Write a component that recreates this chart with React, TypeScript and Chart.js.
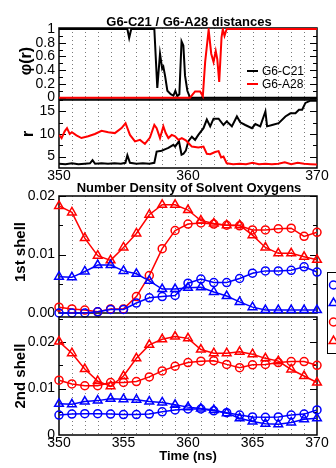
import React, { useEffect, useRef } from "react";
import { Chart, registerables } from "chart.js";

Chart.register(...registerables);

const PAGE_W = 336;
const PAGE_H = 468;
const FONT = "'Liberation Sans', Arial, Helvetica, sans-serif";
const AXIS_W = 50;

// ---------------- data ----------------
const timeMin = 350;
const timeMax = 370;
const gridTimes = [351, 352, 353, 354, 355, 356, 357, 358, 359, 360, 361, 362, 363, 364, 365, 366, 367, 368, 369];

// Panel 1: phi(r)
const phiC21Time = [350, 355.3, 355.44, 355.6, 357.39, 357.62, 357.83, 358.0, 358.09, 358.22, 358.4, 358.66, 358.87, 359.02, 359.17, 359.33, 359.5, 359.64, 359.77, 359.95, 360.16, 370];
const phiC21 = [1, 1, 0.87, 1, 1, 0.14, 0.64, 0.42, 0.45, 0.32, 0.1, 0.05, 0.03, 0.1, 0.02, 0.05, 0.82, 0.76, 0.32, 0.1, 0, 0];
const phiA28Time = [350, 360.16, 360.55, 360.94, 361.15, 361.33, 361.6, 361.8, 361.98, 362.15, 362.27, 362.42, 362.6, 362.7, 362.83, 363.0, 370];
const phiA28 = [0, 0, 0.09, 0.09, 0.02, 0.52, 0.99, 0.64, 0.52, 0.68, 0.56, 0.23, 0.88, 1.0, 0.9, 1.0, 1.0];

// Panel 2: r
const rC21Time = [350, 350.5, 351, 351.5, 352, 352.4, 352.6, 352.8, 353.3, 353.8, 354.3, 354.8, 355.15, 355.3, 355.5, 356, 356.5, 357, 357.39, 357.57, 357.96, 358.2, 358.48, 358.7, 358.87, 359.0, 359.3, 359.5, 359.65, 359.83, 360.03, 360.3, 360.55, 360.8, 361.2, 361.46, 361.72, 361.98, 362.37, 362.75, 363.0, 363.4, 363.79, 364.05, 364.44, 364.96, 365.22, 365.6, 366.0, 366.13, 366.52, 367.03, 367.55, 367.94, 368.33, 368.6, 368.85, 369.1, 369.5, 370];
const rC21 = [3.4, 3.3, 3.5, 3.3, 3.4, 3.5, 4.2, 3.4, 3.5, 3.4, 3.5, 3.4, 3.6, 5.3, 3.6, 3.4, 3.5, 3.4, 3.6, 6.1, 6.3, 6.6, 6.9, 7.3, 7.6, 7.2, 8.4, 5.4, 5.6, 6.3, 8.4, 9.4, 8.7, 9.8, 11.3, 13.2, 11.7, 13.4, 13.4, 12.0, 12.8, 11.7, 13.9, 12.6, 12.0, 11.3, 12.2, 11.7, 15.0, 11.7, 12.0, 12.4, 13.9, 14.6, 14.6, 15.4, 15.4, 16.9, 17.4, 17.4];
const rA28Time = [350.0, 350.2, 350.44, 350.62, 350.83, 351.0, 351.35, 351.74, 352.26, 352.78, 353.3, 353.82, 354.33, 354.85, 355.16, 355.5, 355.89, 356.28, 356.66, 357.05, 357.39, 357.57, 357.83, 358.09, 358.27, 358.48, 358.74, 359.0, 359.26, 359.52, 359.83, 360.03, 360.3, 360.8, 361.2, 361.46, 361.72, 362.1, 362.37, 362.57, 362.75, 363.0, 363.5, 364, 364.5, 365, 365.5, 366, 366.5, 367, 367.5, 368, 368.5, 369, 369.5, 370];
const rA28 = [9.8, 9.1, 10.6, 11.3, 10.0, 10.4, 9.7, 9.1, 9.5, 10.0, 10.7, 10.4, 10.2, 11.3, 12.4, 9.8, 8.35, 8.7, 7.8, 9.2, 12.0, 11.3, 9.1, 11.7, 10.2, 9.1, 9.8, 9.5, 8.7, 9.1, 8.6, 8.0, 7.2, 7.0, 7.2, 5.6, 5.5, 6.0, 6.2, 4.8, 5.0, 3.5, 3.3, 3.4, 3.3, 3.6, 3.3, 3.4, 3.3, 3.4, 3.7, 3.3, 3.6, 3.4, 3.3, 3.2];

// Panels 3 & 4: number density
const shellTime = [350, 351, 352, 353, 354, 355, 356, 357, 358, 359, 360, 361, 362, 363, 364, 365, 366, 367, 368, 369, 370];
const shell1BlueCircle = [0.0000, 0.0000, 0.0000, 0.0002, 0.0006, 0.0006, 0.0017, 0.0026, 0.0028, 0.0030, 0.0051, 0.0058, 0.0052, 0.0052, 0.0059, 0.0068, 0.0072, 0.0072, 0.0073, 0.0079, 0.0070];
const shell1BlueTriangle = [0.0062, 0.0061, 0.0071, 0.0082, 0.0082, 0.0072, 0.0067, 0.0055, 0.0041, 0.0041, 0.0043, 0.0044, 0.0036, 0.0029, 0.0019, 0.0010, 0.0005, 0.0005, 0.0005, 0.0005, 0.0005];
const shell1RedCircle = [0.0010, 0.0007, 0.0005, 0.0002, 0.0007, 0.0007, 0.0028, 0.0064, 0.0110, 0.0141, 0.0152, 0.0154, 0.0152, 0.0150, 0.0149, 0.0142, 0.0142, 0.0144, 0.0145, 0.0131, 0.0138];
const shell1RedTriangle = [0.0183, 0.0172, 0.0128, 0.0098, 0.0090, 0.0112, 0.0136, 0.0168, 0.0185, 0.0185, 0.0176, 0.0158, 0.0153, 0.0150, 0.0150, 0.0133, 0.0112, 0.0102, 0.0102, 0.0096, 0.0091];
const shell2BlueCircle = [0.0043, 0.0045, 0.0046, 0.0046, 0.0045, 0.0044, 0.0044, 0.0045, 0.0050, 0.0054, 0.0056, 0.0056, 0.0052, 0.0048, 0.0043, 0.0039, 0.0038, 0.0039, 0.0043, 0.0045, 0.0054];
const shell2BlueTriangle = [0.0067, 0.0066, 0.0072, 0.0074, 0.0078, 0.0077, 0.0076, 0.0072, 0.0070, 0.0065, 0.0060, 0.0057, 0.0054, 0.0047, 0.0036, 0.0029, 0.0024, 0.0023, 0.0027, 0.0034, 0.0036];
const shell2RedCircle = [0.0118, 0.0110, 0.0106, 0.0106, 0.0113, 0.0113, 0.0115, 0.0125, 0.0138, 0.0148, 0.0156, 0.0159, 0.0160, 0.0152, 0.0145, 0.0151, 0.0152, 0.0156, 0.0158, 0.0158, 0.0150];
const shell2RedTriangle = [0.0201, 0.0176, 0.0142, 0.0116, 0.0105, 0.0127, 0.0165, 0.0194, 0.0206, 0.0212, 0.0208, 0.0184, 0.0176, 0.0176, 0.0179, 0.0174, 0.0165, 0.0159, 0.0141, 0.0127, 0.0113];

// tick values / labels
const phiMajor = [0, 0.2, 0.4, 0.6, 0.8, 1];
const phiMinor = [0.1, 0.3, 0.5, 0.7, 0.9];
const rMajor = [5, 10, 15];
const rMinor = [2.5, 7.5, 12.5, 17.5];
const densMajor = [0, 0.01, 0.02];
const densMinor = [0.005, 0.015, 0.025];
const topTimeLabels = [350, 360, 370];
const bottomTimeLabels = [350, 355, 360, 365, 370];

const seriesNames = ["G6-C21", "G6-A28"];
const densityNames = ["G6-C21 (1)", "G6-C21 (2)", "G6-A28 (1)", "G6-A28 (2)"];

const BLUE = "#0000ff";
const RED = "#ff0000";
const BLACK = "#000000";

// ---------------- helpers ----------------
const pts = (xs: number[], ys: number[]) => xs.map((x, i) => ({ x, y: ys[i] }));

type TextItem = { text: string; x: number; y: number; font: string; rotate?: boolean; align?: CanvasTextAlign; color?: string };
type Area = { left: number; top: number; right: number; bottom: number };
type PanelSpec = {
  area: Area;
  yMin: number;
  yMax: number;
  yMajor: number[];
  yMinor: number[];
  yFormat: (v: number) => string;
  xLabels: number[] | null;
  datasets: any[];
  texts: TextItem[];
  lineLegend?: { color: string; label: string; y: number }[];
  markerLegend?: { color: string; style: string; label: string; y: number }[];
};

function drawMarker(ctx: CanvasRenderingContext2D, style: string, x: number, y: number, r: number) {
  ctx.beginPath();
  if (style === "circle") {
    ctx.arc(x, y, r, 0, Math.PI * 2);
  } else {
    let rad = 0;
    const step = (Math.PI * 2) / 3;
    ctx.moveTo(x + Math.sin(rad) * r, y - Math.cos(rad) * r);
    rad += step;
    ctx.lineTo(x + Math.sin(rad) * r, y - Math.cos(rad) * r);
    rad += step;
    ctx.lineTo(x + Math.sin(rad) * r, y - Math.cos(rad) * r);
    ctx.closePath();
  }
  ctx.stroke();
}

function decorPlugin(p: PanelSpec) {
  return {
    id: "panelDecor",
    beforeDatasetsDraw(chart: any) {
      const { ctx, chartArea: a, scales } = chart;
      const x = scales.x;
      const y = scales.y;
      ctx.save();
      ctx.strokeStyle = "#7a7a7a";
      ctx.lineWidth = 1;
      ctx.setLineDash([1, 3]);
      for (const t of gridTimes) {
        const px = Math.round(x.getPixelForValue(t)) + 0.5;
        ctx.beginPath();
        ctx.moveTo(px, a.top);
        ctx.lineTo(px, a.bottom);
        ctx.stroke();
      }
      ctx.setLineDash([]);
      ctx.strokeStyle = "#000";
      ctx.lineWidth = 1;
      const mark = (v: number, len: number) => {
        const py = Math.round(y.getPixelForValue(v)) + 0.5;
        if (py < a.top || py > a.bottom) return;
        ctx.beginPath();
        ctx.moveTo(a.left, py);
        ctx.lineTo(a.left + len, py);
        ctx.moveTo(a.right, py);
        ctx.lineTo(a.right - len, py);
        ctx.stroke();
      };
      p.yMajor.forEach((v) => mark(v, 7));
      p.yMinor.forEach((v) => mark(v, 4));
      ctx.lineWidth = 1.5;
      ctx.strokeRect(a.left, a.top, a.right - a.left, a.bottom - a.top);
      ctx.restore();
    },
    afterDraw(chart: any) {
      const { ctx } = chart;
      ctx.save();
      for (const t of p.texts) {
        ctx.save();
        ctx.font = t.font;
        ctx.fillStyle = t.color || "#000";
        ctx.textAlign = t.align || "center";
        ctx.textBaseline = "alphabetic";
        ctx.translate(t.x, t.y);
        if (t.rotate) ctx.rotate(-Math.PI / 2);
        ctx.fillText(t.text, 0, 0);
        ctx.restore();
      }
      if (p.lineLegend) {
        for (const it of p.lineLegend) {
          ctx.strokeStyle = it.color;
          ctx.lineWidth = 2;
          ctx.beginPath();
          ctx.moveTo(247, it.y);
          ctx.lineTo(258, it.y);
          ctx.stroke();
          ctx.fillStyle = "#000";
          ctx.font = `12px ${FONT}`;
          ctx.textAlign = "left";
          ctx.textBaseline = "middle";
          ctx.fillText(it.label, 262, it.y + 0.5);
        }
      }
      if (p.markerLegend) {
        ctx.strokeStyle = "#000";
        ctx.lineWidth = 1;
        ctx.strokeRect(327.5, 272.5, 120, 81);
        for (const it of p.markerLegend) {
          ctx.strokeStyle = it.color;
          ctx.lineWidth = 1.5;
          drawMarker(ctx, it.style, 333.5, it.y, it.style === "circle" ? 4 : 5);
          ctx.fillStyle = "#000";
          ctx.font = `12px ${FONT}`;
          ctx.textAlign = "left";
          ctx.textBaseline = "middle";
          ctx.fillText(it.label, 345, it.y);
        }
      }
      ctx.restore();
    },
  };
}

function buildConfig(p: PanelSpec): any {
  const xh = p.xLabels ? 20 : 0;
  const xTicks = p.xLabels ?? [timeMin, timeMax];
  return {
    type: "line",
    data: { datasets: p.datasets },
    options: {
      responsive: false,
      animation: false,
      events: [],
      layout: {
        padding: {
          left: p.area.left - AXIS_W,
          top: p.area.top,
          right: PAGE_W - p.area.right,
          bottom: PAGE_H - p.area.bottom - xh,
        },
      },
      plugins: { legend: { display: false }, tooltip: { enabled: false }, title: { display: false } },
      scales: {
        x: {
          type: "linear",
          min: timeMin,
          max: timeMax,
          bounds: "data",
          grid: { display: false, drawTicks: false },
          border: { display: false },
          afterFit: (s: any) => {
            s.height = xh;
          },
          afterBuildTicks: (s: any) => {
            s.ticks = xTicks.map((v) => ({ value: v }));
          },
          ticks: {
            display: !!p.xLabels,
            autoSkip: false,
            maxRotation: 0,
            padding: 0,
            color: "#000",
            font: { family: FONT, size: 14 },
            callback: (v: any) => String(v),
          },
        },
        y: {
          type: "linear",
          min: p.yMin,
          max: p.yMax,
          bounds: "data",
          grid: { display: false, drawTicks: false },
          border: { display: false },
          afterFit: (s: any) => {
            s.width = AXIS_W;
          },
          afterBuildTicks: (s: any) => {
            s.ticks = p.yMajor.map((v) => ({ value: v }));
          },
          ticks: {
            autoSkip: false,
            padding: 4,
            color: "#000",
            font: { family: FONT, size: 14 },
            callback: (v: any) => p.yFormat(Number(v)),
          },
        },
      },
    },
    plugins: [decorPlugin(p)],
  };
}

const lineDs = (label: string, xs: number[], ys: number[], color: string, order: number) => ({
  label,
  data: pts(xs, ys),
  borderColor: color,
  backgroundColor: color,
  borderWidth: 2,
  pointRadius: 0,
  tension: 0,
  fill: false,
  order,
});

const markerDs = (label: string, ys: number[], color: string, style: string) => ({
  label,
  data: pts(shellTime, ys),
  borderColor: color,
  backgroundColor: "rgba(0,0,0,0)",
  borderWidth: 1.5,
  pointStyle: style,
  pointRadius: style === "circle" ? 4 : 5,
  pointBorderWidth: 1.5,
  pointBorderColor: color,
  pointBackgroundColor: "rgba(0,0,0,0)",
  tension: 0,
  fill: false,
  clip: false,
});

const boldFont = (s: number) => `bold ${s}px ${FONT}`;

const panels: PanelSpec[] = [
  {
    area: { left: 59, top: 28, right: 317, bottom: 99 },
    yMin: -0.02,
    yMax: 1.015,
    yMajor: phiMajor,
    yMinor: phiMinor,
    yFormat: (v) => (v === 0 ? "0" : v === 1 ? "1" : v.toFixed(1)),
    xLabels: null,
    datasets: [
      lineDs(seriesNames[1], phiA28Time, phiA28, RED, 0),
      lineDs(seriesNames[0], phiC21Time, phiC21, BLACK, 1),
    ],
    texts: [
      { text: "G6-C21 / G6-A28 distances", x: 189, y: 26, font: boldFont(13) },
      { text: "φ(r)", x: 31, y: 61, font: boldFont(16), rotate: true },
    ],
    lineLegend: [
      { color: BLACK, label: seriesNames[0], y: 71 },
      { color: RED, label: seriesNames[1], y: 84 },
    ],
  },
  {
    area: { left: 59, top: 100, right: 317, bottom: 168 },
    yMin: 2.45,
    yMax: 17.55,
    yMajor: rMajor,
    yMinor: rMinor,
    yFormat: (v) => String(v),
    xLabels: topTimeLabels,
    datasets: [
      lineDs(seriesNames[1], rA28Time, rA28, RED, 0),
      lineDs(seriesNames[0], rC21Time, rC21, BLACK, 1),
    ],
    texts: [{ text: "r", x: 33, y: 134, font: boldFont(16), rotate: true }],
  },
  {
    area: { left: 59, top: 196, right: 317, bottom: 313 },
    yMin: 0,
    yMax: 0.02,
    yMajor: densMajor,
    yMinor: densMinor,
    yFormat: (v) => v.toFixed(2),
    xLabels: null,
    datasets: [
      markerDs(densityNames[0], shell1BlueCircle, BLUE, "circle"),
      markerDs(densityNames[1], shell1BlueTriangle, BLUE, "triangle"),
      markerDs(densityNames[2], shell1RedCircle, RED, "circle"),
      markerDs(densityNames[3], shell1RedTriangle, RED, "triangle"),
    ],
    texts: [
      { text: "Number Density of Solvent Oxygens", x: 189, y: 192, font: boldFont(13) },
      { text: "1st shell", x: 25, y: 252, font: boldFont(15), rotate: true },
    ],
    markerLegend: [
      { color: BLUE, style: "circle", label: densityNames[0], y: 285 },
      { color: BLUE, style: "triangle", label: densityNames[1], y: 303 },
      { color: RED, style: "circle", label: densityNames[2], y: 322 },
      { color: RED, style: "triangle", label: densityNames[3], y: 341 },
    ],
  },
  {
    area: { left: 59, top: 317, right: 317, bottom: 435 },
    yMin: 0,
    yMax: 0.0254,
    yMajor: densMajor,
    yMinor: densMinor,
    yFormat: (v) => (v === 0 ? "0" : v.toFixed(2)),
    xLabels: bottomTimeLabels,
    datasets: [
      markerDs(densityNames[0], shell2BlueCircle, BLUE, "circle"),
      markerDs(densityNames[1], shell2BlueTriangle, BLUE, "triangle"),
      markerDs(densityNames[2], shell2RedCircle, RED, "circle"),
      markerDs(densityNames[3], shell2RedTriangle, RED, "triangle"),
    ],
    texts: [
      { text: "2nd shell", x: 25, y: 376, font: boldFont(15), rotate: true },
      { text: "Time (ns)", x: 188, y: 459.5, font: boldFont(13) },
    ],
  },
];

function Panel({ spec }: { spec: PanelSpec }) {
  const ref = useRef<HTMLCanvasElement>(null);
  useEffect(() => {
    if (!ref.current) return;
    const chart = new Chart(ref.current, buildConfig(spec));
    return () => chart.destroy();
  }, [spec]);
  return (
    <canvas
      ref={ref}
      width={PAGE_W}
      height={PAGE_H}
      style={{ position: "absolute", left: 0, top: 0, width: PAGE_W, height: PAGE_H }}
    />
  );
}

export default function App() {
  return (
    <div style={{ position: "fixed", left: 0, top: 0, width: PAGE_W, height: PAGE_H, background: "#fff", overflow: "hidden" }}>
      {panels.map((p, i) => (
        <Panel key={i} spec={p} />
      ))}
    </div>
  );
}
